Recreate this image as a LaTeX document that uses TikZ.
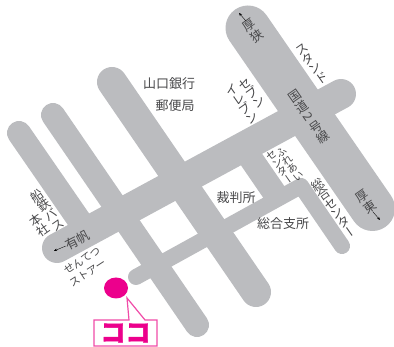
\documentclass[tikz,border=0pt]{standalone}
\usepackage{fontspec}
\usetikzlibrary{arrows.meta}
\setmainfont{Noto Sans CJK JP}
\newfontfamily\jph{Noto Sans CJK JP}
\newfontfamily\jpv[RawFeature={+vert}]{Noto Sans CJK JP}
\newfontfamily\jpk[BoldFeatures={FakeBold=1.5}]{Noto Sans CJK JP}
\definecolor{road}{HTML}{BBBCBF}
\definecolor{lbl}{HTML}{48484A}
\definecolor{kokopink}{HTML}{EC008C}
\definecolor{kokoline}{HTML}{F04CA8}
\newcommand{\vfnt}[2]{\jpv\fontsize{#1}{#2}\selectfont}
\tikzset{
  roadline/.style={draw=road,line cap=round,line join=round,line width=#1pt},
  flatroad/.style={draw=road,line cap=butt,line width=#1pt},
  vtx/.style n args={2}{rotate=35,align=center,inner sep=0pt,text=lbl,
    font={\vfnt{#1}{#2}}},
  htx/.style={inner sep=0pt,text=lbl,font={\jph\fontsize{#1}{#1}\selectfont}},
  dirarrow/.style={draw=black,line width=.35pt,-{Stealth[length=3.2pt,width=2.6pt]}}
}
\lineskiplimit=-20pt
\lineskip=0pt
\begin{document}
\begin{tikzpicture}[x=1pt,y=-1pt]
\useasboundingbox (0,0) rectangle (394,347);
% roads
\draw[roadline=45] (248,28) -- (372.5,208.5);
\draw[roadline=30] (112,82) -- (256,292);
\draw[roadline=24] (53,115) -- (197,325);
\draw[roadline=24] (19,133) -- (88,233);
\draw[roadline=30] (57,248) -- (341,94);
\draw[flatroad=24] (245,150) -- (280,201);
\draw[roadline=16] (136,277) -- (301,186) -- (342,246);
% labels
\node[htx=13] (bank) at (169,84) {山口銀行};
\node[htx=13] (post) at (175,106) {郵便局};
\node[htx=13] (court) at (236,198) {裁判所};
\node[htx=13] (branch) at (283,224) {総合支所};
\node[vtx={12.5}{13}] (asa) at (253,31) {厚\\狭};
\node[vtx={12.5}{11.5}] (stand) at (312,64) {ス\\タ\\ン\\ド};
\node[vtx={12.5}{12.5}] (route) at (309,117) {国\\道\\\raisebox{8.5pt}{\rotatebox{-90}{2}}\\号\\線};
\node[vtx={12.5}{11.5}] (seven) at (252,93) {セ\\ブ\\ン};
\node[vtx={12.5}{11.5}] (eleven) at (242,104) {イ\\レ\\ブ\\ン};
\node[vtx={10.5}{9.8}] (fure) at (290,164) {ふ\\れ\\あ\\い};
\node[vtx={10.5}{9.8}] (center) at (280,167) {セ\\ン\\タ\\ー};
\node[vtx={12.5}{11.4}] (sogo) at (333.5,208) {総\\合\\セ\\ン\\タ\\ー};
\node[vtx={12.5}{12.8}] (ato) at (366,202) {厚\\東};
\node[vtx={12.5}{12}] (sen) at (47,210) {船\\鉄\\バ\\ス};
\node[vtx={12.5}{12}] (sha) at (39,225) {本\\社};
\node[htx=13,rotate=27] (ari) at (77.5,240) {有帆};
\node[htx=10.5,rotate=33] (sente) at (82,260.5) {せんてつ};
\node[htx=10.5,rotate=33] (store) at (87.5,273) {ストアー};
% direction arrows
\coordinate (asaend) at (239,13);
\coordinate (atoend) at (380,220);
\coordinate (ariend) at (54,251);
\draw[dirarrow] (asa.north) -- (asaend);
\draw[dirarrow] (ato.south) -- (atoend);
\draw[dirarrow] (ari.west) -- (ariend);
% marker and callout
\fill[kokopink] (116,288) ellipse [x radius=12, y radius=10.5];
\draw[kokoline,line width=1.2pt,fill=white,line join=miter]
  (94,320) -- (129,320) -- (127,298) -- (145,320) -- (157,320) -- (157,346) -- (94,346) -- cycle;
\node[inner sep=0pt,text=kokopink,font={\jpk\bfseries\fontsize{25}{25}\selectfont}] (koko) at (125.5,333) {ココ};
\end{tikzpicture}
\end{document}
